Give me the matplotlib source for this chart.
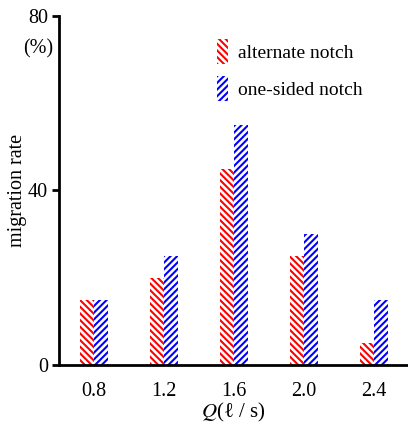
import numpy as np
import matplotlib
matplotlib.use("Agg")
import matplotlib.pyplot as plt

# --------------------
# Data
# --------------------
flow_labels = ["0.8", "1.2", "1.6", "2.0", "2.4"]
alternate_notch = [15, 20, 45, 25, 5]
one_sided_notch = [15, 25, 55, 30, 15]

plt.rcParams["font.family"] = ["Liberation Serif", "DejaVu Serif"]
plt.rcParams["mathtext.fontset"] = "stix"
plt.rcParams["hatch.linewidth"] = 1.5

fig = plt.figure(figsize=(4.08, 4.30), dpi=100)
ax = fig.add_axes([0.145, 0.151, 0.855, 0.812])

x = np.arange(len(flow_labels))
w = 0.2
ax.bar(x - w / 2, alternate_notch, w, facecolor="white", edgecolor="red",
       linewidth=0, hatch="\\" * 5, label="alternate notch")
ax.bar(x + w / 2, one_sided_notch, w, facecolor="white", edgecolor="blue",
       linewidth=0, hatch="/" * 5, label="one-sided notch")

ax.set_xlim(-0.5, 4.49)
ax.set_ylim(0, 80)
ax.set_yticks([0, 40, 80])
ax.set_xticks(x)
ax.set_xticklabels(flow_labels)
ax.tick_params(axis="y", direction="out", length=5, width=2, labelsize=14.5, pad=3)
ax.tick_params(axis="x", length=0, pad=12, labelsize=14.5)

for s in ["top", "right"]:
    ax.spines[s].set_visible(False)
for s in ["left", "bottom"]:
    ax.spines[s].set_linewidth(2)

ax.set_ylabel("migration rate", fontsize=14.5, labelpad=1)
ax.set_xlabel(r"$Q$" + "(ℓ / s)", fontsize=15, labelpad=0)
ax.text(-0.017, 0.905, "(%)", transform=ax.transAxes, ha="right", va="center",
        fontsize=14.5)

ax.legend(loc="upper left", bbox_to_anchor=(0.43, 0.955), frameon=False,
          fontsize=14, handlelength=0.55, handleheight=1.6, labelspacing=0.6,
          handletextpad=0.55, borderaxespad=0)

fig.savefig("out.png", dpi=100)
